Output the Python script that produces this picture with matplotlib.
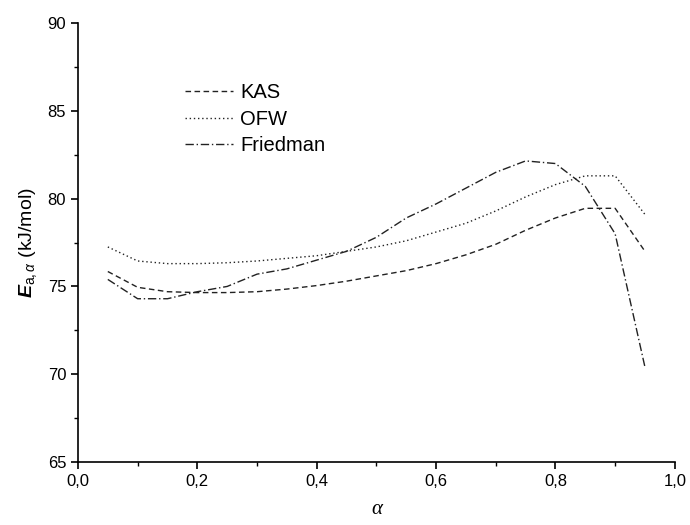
import matplotlib.pyplot as plt
from matplotlib.ticker import MultipleLocator, FuncFormatter

plt.rcParams['font.family'] = ['Liberation Sans', 'DejaVu Sans']
plt.rcParams['mathtext.fontset'] = 'custom'
plt.rcParams['mathtext.rm'] = 'Liberation Sans'
plt.rcParams['mathtext.it'] = 'Liberation Sans:italic'
plt.rcParams['mathtext.bf'] = 'Liberation Sans:bold:italic'

alpha = [0.05, 0.10, 0.15, 0.20, 0.25, 0.30, 0.35, 0.40, 0.45, 0.50,
         0.55, 0.60, 0.65, 0.70, 0.75, 0.80, 0.85, 0.90, 0.95]
kas = [75.85, 74.95, 74.7, 74.65, 74.65, 74.7, 74.85, 75.05, 75.3, 75.6,
       75.9, 76.3, 76.8, 77.4, 78.2, 78.9, 79.45, 79.45, 77.0]
ofw = [77.25, 76.45, 76.3, 76.3, 76.35, 76.45, 76.6, 76.75, 77.0, 77.25,
       77.6, 78.1, 78.6, 79.3, 80.1, 80.8, 81.3, 81.3, 79.1]
friedman = [75.4, 74.3, 74.3, 74.7, 75.0, 75.7, 76.0, 76.5, 77.0, 77.8,
            78.9, 79.7, 80.6, 81.5, 82.15, 82.0, 80.7, 78.0, 70.4]

fig = plt.figure(figsize=(6.9, 5.25), dpi=100)
ax = fig.add_axes([0.113, 0.12, 0.865, 0.836])

ax.plot(alpha, kas, color='#222222', lw=1.0, linestyle=(0, (4, 2.5)), label='KAS')
ax.plot(alpha, ofw, color='#222222', lw=1.0, linestyle=(0, (1, 2)), label='OFW')
ax.plot(alpha, friedman, color='#222222', lw=1.0, linestyle=(0, (6, 2, 1, 2)), label='Friedman')

ax.set_xlim(0, 1.0)
ax.set_ylim(65, 90)
ax.xaxis.set_major_locator(MultipleLocator(0.2))
ax.xaxis.set_minor_locator(MultipleLocator(0.1))
ax.yaxis.set_major_locator(MultipleLocator(5))
ax.yaxis.set_minor_locator(MultipleLocator(2.5))
ax.xaxis.set_major_formatter(FuncFormatter(lambda v, p: f"{v:.1f}".replace('.', ',')))

for side in ['top', 'right']:
    ax.spines[side].set_visible(False)
for side in ['left', 'bottom']:
    ax.spines[side].set_linewidth(1.2)
ax.tick_params(which='major', direction='out', length=5, width=1.2, labelsize=12)
ax.tick_params(which='minor', direction='out', length=3, width=1.0)

ax.set_xlabel('α', family='Liberation Serif', style='italic', fontsize=15, labelpad=8)
ax.set_ylabel(r'$\mathbf{E}_{\mathrm{a,}\alpha}$ (kJ/mol)', fontsize=14, labelpad=6)

ax.legend(loc='upper left', bbox_to_anchor=(0.149, 0.905), frameon=False, fontsize=14.5,
          handlelength=2.37, handletextpad=0.36, labelspacing=0.38)

fig.savefig('out.png', dpi=100)
